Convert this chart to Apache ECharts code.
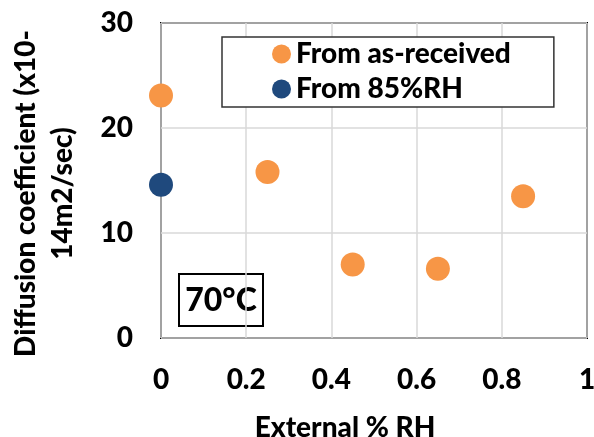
<!DOCTYPE html>
<html><head><meta charset="utf-8">
<script src="https://cdn.jsdelivr.net/npm/echarts@6/dist/echarts.min.js"></script>
<style>html,body{margin:0;padding:0;background:#fff}#c{width:594px;height:437px}</style>
</head><body><div id="c"></div>
<script>
var asReceivedX = [0, 0.25, 0.45, 0.65, 0.85];
var asReceivedY = [23.1, 15.8, 7.0, 6.6, 13.5];
var rh85X = [0];
var rh85Y = [14.6];
var seriesNames = ['From as-received', 'From 85%RH'];
var xTitle = 'External % RH';
var yTitle = 'Diffusion coefficient (x10-\n14m2/sec)';
var tempLabel = '70°C';

function pairs(xs, ys){ return xs.map(function(x,i){return [x, ys[i]];}); }
var FONT = 'Lato';
var FW = 900;
var FS = 28;
var chart = echarts.init(document.getElementById('c'));
chart.setOption({
  animation: false,
  textStyle: {fontFamily: FONT, fontWeight: FW, color: '#000'},
  grid: {left: 161, right: 7, top: 23, bottom: 99, outerBoundsMode: 'none', containLabel: false, show: true, borderColor: '#000', borderWidth: 2, backgroundColor: 'transparent'},
  legend: {
    orient: 'vertical', left: 222, top: 37,
    borderColor: '#333', borderWidth: 1.5, backgroundColor: '#fff',
    padding: [3, 43, 4, 50], itemGap: 7,
    itemWidth: 19, itemHeight: 19, icon: 'circle',
    textStyle: {fontFamily: FONT, fontWeight: FW, fontSize: FS, color: '#000', lineHeight: 28},
    data: seriesNames
  },
  xAxis: {
    type: 'value', min: 0, max: 1, interval: 0.2,
    name: xTitle, nameLocation: 'middle', nameGap: 76,
    nameTextStyle: {fontFamily: FONT, fontWeight: FW, fontSize: FS, color: '#000', padding: [0, 58, 0, 0]},
    axisLine: {show: false}, axisTick: {show: false},
    axisLabel: {margin: 28, fontFamily: FONT, fontWeight: FW, fontSize: FS, color: '#000'},
    splitLine: {show: true, lineStyle: {color: '#d9d9d9', width: 1.5}}
  },
  yAxis: {
    type: 'value', min: 0, max: 30, interval: 10,
    name: yTitle, nameLocation: 'middle', nameGap: 80,
    nameTextStyle: {fontFamily: FONT, fontWeight: FW, fontSize: FS, color: '#000', lineHeight: 37, padding: [0, 26, 0, 0]},
    axisLine: {show: false}, axisTick: {show: false},
    axisLabel: {margin: 28, fontFamily: FONT, fontWeight: FW, fontSize: FS, color: '#000'},
    splitLine: {show: true, lineStyle: {color: '#d9d9d9', width: 1.5}}
  },
  series: [
    {name: seriesNames[0], type: 'scatter', symbolSize: 24, clip: false, itemStyle: {color: '#F79646', opacity: 1}, data: pairs(asReceivedX, asReceivedY)},
    {name: seriesNames[1], type: 'scatter', symbolSize: 24, clip: false, itemStyle: {color: '#1F497D', opacity: 1}, data: pairs(rh85X, rh85Y)}
  ],
  graphic: [
    {type: 'group', left: 178, top: 273, z: 100, children: [
      {type: 'rect', shape: {x: 0, y: 0, width: 84, height: 52}, style: {fill: '#fff', stroke: '#000', lineWidth: 2}},
      {type: 'text', x: 42, y: 27, style: {text: tempLabel, fontFamily: FONT, fontWeight: FW, fontSize: 32, fill: '#000', align: 'center', verticalAlign: 'middle'}}
    ]}
  ]
});
</script></body></html>
